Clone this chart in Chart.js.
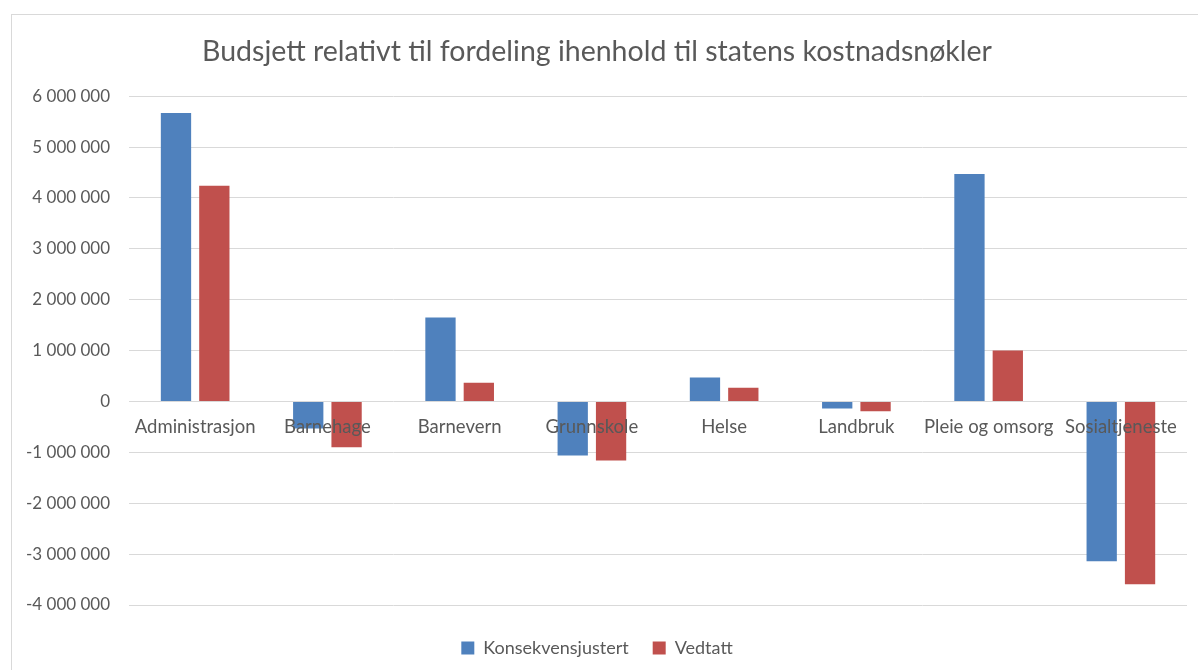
<!DOCTYPE html>
<html>
<head>
<meta charset="utf-8">
<script src="https://cdn.jsdelivr.net/npm/chart.js@4"></script>
<style>
  html, body { margin: 0; padding: 0; background: #fff; }
  #frame { position: absolute; left: 11px; top: 14px; width: 1187px; height: 656px;
           border-left: 1px solid #d9d9d9; border-top: 1px solid #d9d9d9; }
  #chart { position: absolute; left: 0; top: 0; }
</style>
</head>
<body>
<div id="frame"></div>
<canvas id="chart" width="1198" height="670"></canvas>
<script>
var categories = ['Administrasjon', 'Barnehage', 'Barnevern', 'Grunnskole', 'Helse', 'Landbruk', 'Pleie og omsorg', 'Sosialtjeneste'];
var konsekvensjustert = [5670000, -530000, 1650000, -1060000, 470000, -140000, 4470000, -3140000];
var vedtatt = [4240000, -900000, 370000, -1160000, 270000, -190000, 1000000, -3590000];

var grey = '#595959';
var fontFamily = 'Lato, "Open Sans", sans-serif';

// "6 000 000" style thousands separator
function spaced(v) {
    var s = Math.abs(v).toString().replace(/\B(?=(\d{3})+(?!\d))/g, ' ');
    return (v < 0 ? '-' : '') + s;
}

new Chart(document.getElementById('chart'), {
    type: 'bar',
    data: {
        labels: categories,
        datasets: [
            { label: 'Konsekvensjustert', data: konsekvensjustert, backgroundColor: '#4f81bd' },
            { label: 'Vedtatt', data: vedtatt, backgroundColor: '#c0504d' }
        ]
    },
    options: {
        responsive: false,
        animation: false,
        categoryPercentage: 0.58,
        barPercentage: 0.79,
        layout: { padding: { left: 7, right: 11, top: 35, bottom: 3 } },
        plugins: {
            title: {
                display: true,
                text: 'Budsjett relativt til fordeling ihenhold til statens kostnadsnøkler',
                color: grey,
                font: { family: fontFamily, size: 28.5, weight: 'normal' },
                padding: { top: 0, bottom: 27 }
            },
            legend: {
                position: 'bottom',
                labels: {
                    color: grey,
                    boxWidth: 13,
                    boxHeight: 13,
                    padding: 24,
                    font: { family: fontFamily, size: 18 }
                }
            },
            tooltip: { enabled: false }
        },
        scales: {
            x: {
                position: { y: 0 },
                grid: { display: false },
                border: { display: false },
                ticks: { z: 1, color: grey, font: { family: fontFamily, size: 18.5 }, maxRotation: 0, autoSkip: false, padding: 6 }
            },
            // empty spacer under the plot so the legend sits lower
            spacer: {
                type: 'category',
                position: 'bottom',
                grid: { display: false },
                border: { display: false },
                ticks: { display: false },
                afterFit: function (s) { s.height = 10; }
            },
            y: {
                min: -4000000,
                max: 6000000,
                border: { display: false },
                grid: { color: '#d9d9d9', drawTicks: false },
                ticks: {
                    stepSize: 1000000,
                    color: grey,
                    padding: 19,
                    font: { family: fontFamily, size: 17 },
                    callback: function (v) { return spaced(v); }
                }
            }
        }
    }
});
</script>
</body>
</html>
